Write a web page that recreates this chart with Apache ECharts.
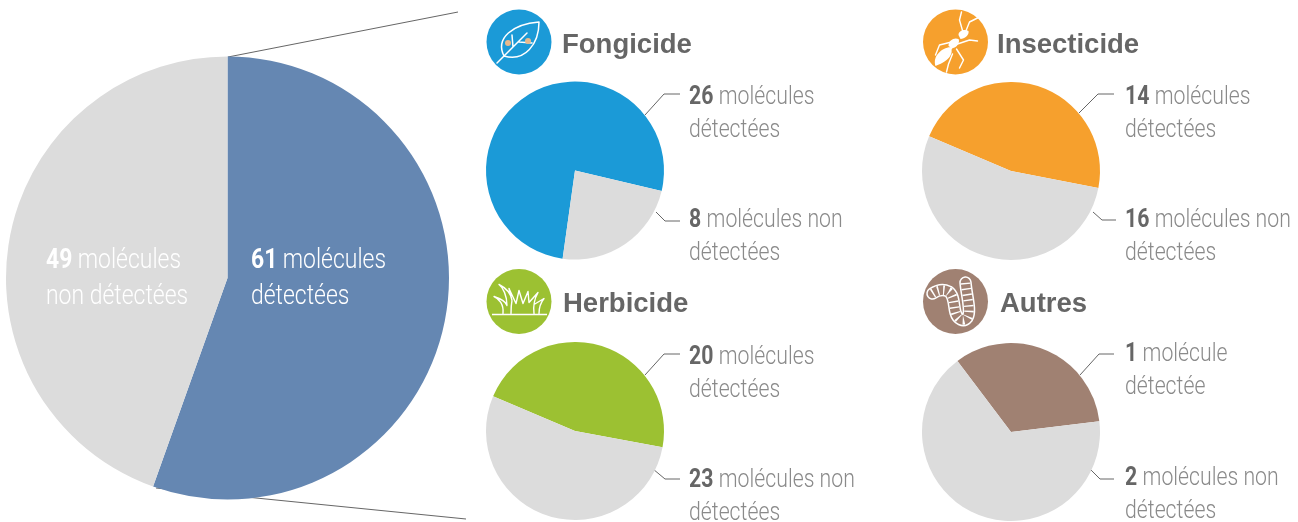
<!DOCTYPE html>
<html lang="fr">
<head>
<meta charset="utf-8">
<title>Molécules détectées</title>
<style>
  html, body { margin: 0; background: #fff; }
  #chart { width: 1298px; height: 522px; }
</style>
<script src="https://cdn.jsdelivr.net/npm/echarts@6/dist/echarts.min.js"></script>
</head>
<body>
<div id="chart"></div>
<script>
const names = ["Total", "Fongicide", "Insecticide", "Herbicide", "Autres"];
const detected = [61, 26, 14, 20, 1];
const notDetected = [49, 8, 16, 23, 2];
const detectedText = [
  ["molécules", "détectées"],
  ["molécules", "détectées"],
  ["molécules", "détectées"],
  ["molécules", "détectées"],
  ["molécule", "détectée"],
];
const notDetectedText = [
  ["molécules", "non détectées"],
  ["molécules non", "détectées"],
  ["molécules non", "détectées"],
  ["molécules non", "détectées"],
  ["molécules non", "détectées"],
];
const colors = ["#6587b2", "#1b9ad7", "#f6a02d", "#9cc132", "#a08172"];
const GREY = "#dcdcdc";
const TEXT = "#8a8a8a";
const TEXT_BOLD = "#666";
const LINE = "#666";
const FONT = "Roboto, 'Liberation Sans', sans-serif";
// the original face is a condensed light grotesque, roboto light squeezed gets close
const TEXT_SQUEEZE = 0.85;

// layout per pie: first angle, centre, radius, label anchors, leader lines
const layout = [
  { start: 90, center: [227.5, 278], r: 221.5 },
  {
    start: 262, center: [575, 170.5], r: 89, icon: [519, 42], titleX: 562,
    labelX: 689, y1: 81.5, y2: 204.5,
    lead1: [[645, 115], [664, 94], [680, 94]],
    lead2: [[656, 212], [665, 221], [680, 221]],
  },
  {
    start: 157, center: [1011, 171], r: 89, icon: [955.5, 42], titleX: 997,
    labelX: 1125, y1: 81.5, y2: 204.5,
    lead1: [[1079, 113], [1098, 94], [1114, 94]],
    lead2: [[1093, 212], [1102, 220], [1116, 220]],
  },
  {
    start: 157, center: [575, 431], r: 89, icon: [519, 301.5], titleX: 563,
    labelX: 689, y1: 341.5, y2: 464.5,
    lead1: [[645, 375], [664, 354], [680, 354]],
    lead2: [[653, 469], [665, 479], [680, 479]],
  },
  {
    start: 127, center: [1011, 432], r: 89, icon: [955.5, 301.5], titleX: 1000,
    labelX: 1125, y1: 338.5, y2: 462.5,
    lead1: [[1080, 375], [1099, 354], [1114, 354]],
    lead2: [[1090, 469], [1100, 479], [1114, 479]],
  },
];

const series = names.map((name, i) => ({
  type: "pie",
  name,
  silent: true,
  animation: false,
  clockwise: true,
  startAngle: layout[i].start,
  center: layout[i].center,
  radius: [0, layout[i].r],
  label: { show: false },
  labelLine: { show: false },
  data: [
    { name: "détectées", value: detected[i], itemStyle: { color: colors[i] } },
    { name: "non détectées", value: notDetected[i], itemStyle: { color: GREY } },
  ],
}));

function label(x, y, value, lines, color, boldColor, size, lineHeight) {
  return {
    type: "text",
    x,
    y,
    z: 100,
    scaleX: TEXT_SQUEEZE,
    style: {
      text: `{b|${value}} {r|${lines[0]}}\n{r|${lines[1]}}`,
      rich: {
        b: { fontFamily: FONT, fontSize: size, fontWeight: 700, fill: boldColor, lineHeight, padding: [0, 3, 0, 0] },
        r: { fontFamily: FONT, fontSize: size, fontWeight: 300, fill: color, lineHeight },
      },
    },
  };
}

function leader(points) {
  return {
    type: "polyline",
    shape: { points },
    style: { stroke: LINE, lineWidth: 1, fill: null },
  };
}

// the graphic component has no "path" type, so svg paths get registered as shapes
function iconShape(type, pathData) {
  echarts.graphic.registerShape(type, echarts.graphic.extendPath(pathData));
  return type;
}
const whiteLine = (type, lineWidth) => ({
  type,
  style: { stroke: "#fff", lineWidth, fill: null, lineCap: "round", lineJoin: "round" },
});

// pictos, drawn around the centre of their disc
const leafPath = iconShape("leafIcon", "M-22 21L8 -9M-15 14C-24 -4 -6 -18 20 -20C20 2 6 20 -15 14M-6 5L-7 -7M0 0L13 1");
const antLegs = iconShape("antLegs", "M8 -8L4 -22L6 -30M10 -10L14 -20L22 -24M-4 0L-16 3L-20 13M-1 3L-10 13M2 2L14 -2L22 -1M1 7L8 18L4 26M-3 12L-7 22L-9 30");
const antBody = iconShape("antBody", "M-20 24C-23 14 -14 6 -5 5C-2 10 -4 18 -20 24ZM-7 4C-7 -2 -1 -5 3 -3C5 0 1 7 -4 6ZM3 -7C3 -12 10 -13 13 -11C14 -7 9 -3 5 -3Z");
const grassPath = iconShape("grassIcon", "M-16 12C-15 3 -20 -3 -25 -5C-19 -3 -13 0 -12 4C-12 -6 -16 -14 -20 -17C-14 -14 -8 -9 -7 -1L-10 -13L-3 2L0 -11L4 2L9 -10L10 1L19 -9C15 -2 14 4 15 12M15 3L25 -3C21 2 20 7 20 12M-8 12C-8 8 -8 4 -7 -1");
const wormPath = iconShape("wormIcon", "M-23 -8C-17 -12 -11 -12 -7 -10C-1 -6 -2 4 0 11C2 18 8 21 12 16C16 9 11 -6 10 -19");

const icons = {
  Fongicide: [
    whiteLine(leafPath, 1.5),
    { type: "circle", shape: { cx: -11, cy: 1, r: 3 }, style: { fill: "#e8b98c" } },
    { type: "circle", shape: { cx: 9, cy: -1, r: 3 }, style: { fill: "#e8b98c" } },
  ],
  Insecticide: [
    whiteLine(antLegs, 1.4),
    { type: antBody, style: { fill: "#fff" } },
  ],
  Herbicide: [
    { type: "line", shape: { x1: -27, y1: 13, x2: 28, y2: 13 }, style: { stroke: "#fff", lineWidth: 1.6 } },
    whiteLine(grassPath, 1.4),
  ],
  Autres: [
    { stroke: "#fff", w: 12.5, dash: null },
    { stroke: colors[4], w: 9.5, dash: null },
    { stroke: "#fff", w: 9.5, dash: [1.4, 4.2] },
  ].map((s) => ({
    type: wormPath,
    style: { stroke: s.stroke, lineWidth: s.w, fill: null, lineCap: s.dash ? "butt" : "round", lineDash: s.dash },
  })),
};

const graphics = [
  // connectors from the big pie to the panel group
  leader([[228, 57], [458, 12]]),
  leader([[156, 488], [466, 519]]),
  label(46, 243, notDetected[0], notDetectedText[0], "#fff", "#fff", 27, 36),
  label(251, 243, detected[0], detectedText[0], "#fff", "#fff", 27, 36),
];

names.forEach((name, i) => {
  if (i === 0) return;
  const l = layout[i];
  graphics.push(
    { type: "circle", shape: { cx: l.icon[0], cy: l.icon[1], r: 32.5 }, style: { fill: colors[i] } },
    { type: "group", x: l.icon[0], y: l.icon[1], children: icons[name] },
    {
      type: "text",
      x: l.titleX,
      y: l.icon[1] + 3,
      style: {
        text: name,
        fontFamily: "'Liberation Sans', Arial, sans-serif",
        fontSize: 27.5,
        fontWeight: 700,
        fill: "#666",
        verticalAlign: "middle",
      },
    },
    leader(l.lead1),
    leader(l.lead2),
    label(l.labelX, l.y1, detected[i], detectedText[i], TEXT, TEXT_BOLD, 25, 33),
    label(l.labelX, l.y2, notDetected[i], notDetectedText[i], TEXT, TEXT_BOLD, 25, 33)
  );
});

const chart = echarts.init(document.getElementById("chart"));
chart.setOption({
  backgroundColor: "#fff",
  animation: false,
  series,
  graphic: { elements: graphics },
});
</script>
</body>
</html>
